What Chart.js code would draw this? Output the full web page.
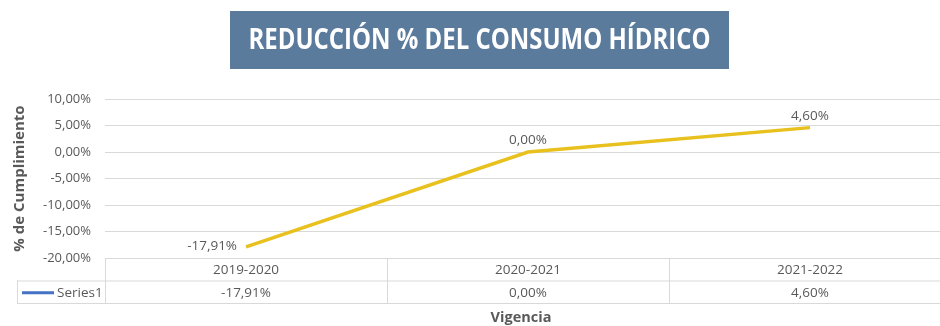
<!DOCTYPE html>
<html>
<head>
<meta charset="utf-8">
<script src="https://cdn.jsdelivr.net/npm/chart.js@4.4.0/dist/chart.umd.min.js"></script>
<style>
  html, body { margin: 0; padding: 0; background: #fff; overflow: hidden; }
  canvas { display: block; }
</style>
</head>
<body>
<canvas id="consumo" width="952" height="326"></canvas>
<script>
// datos del indicador
var vigencias = ["2019-2020", "2020-2021", "2021-2022"];
var reduccion = [-17.91, 0.00, 4.60];
var serieNombre = "Series1";
var tituloGrafico = "REDUCCIÓN % DEL CONSUMO HÍDRICO";
var tituloEjeY = "% de Cumplimiento";
var tituloEjeX = "Vigencia";

var gris = "#595959";
var lineaTabla = "#D9D9D9";
var fuente = "'Open Sans', sans-serif";

function pct(v) {
  return v.toFixed(2).replace(".", ",") + "%";
}

// titulo en caja azul, etiquetas de datos y tabla de datos bajo el eje
var extras = {
  id: "extras",
  afterDraw: function (chart) {
    var ctx = chart.ctx;
    var x = chart.scales.x;
    var area = chart.chartArea;

    // caja del titulo
    ctx.save();
    ctx.fillStyle = "#5B7B9D";
    ctx.fillRect(230, 11, 499, 58);
    ctx.font = "bold 28px " + fuente;
    ctx.fillStyle = "#fff";
    ctx.textBaseline = "middle";
    var w = ctx.measureText(tituloGrafico).width;
    var k = 462 / w;
    ctx.translate(479.5, 41);
    ctx.scale(k, 1);
    ctx.textAlign = "center";
    ctx.fillText(tituloGrafico, 0, 0);
    ctx.restore();

    // etiquetas de valor
    var meta = chart.getDatasetMeta(0);
    ctx.save();
    ctx.font = "13.5px " + fuente;
    ctx.fillStyle = gris;
    meta.data.forEach(function (p, i) {
      if (i === 0) {
        ctx.textAlign = "right";
        ctx.textBaseline = "middle";
        ctx.fillText(pct(reduccion[i]), p.x - 9, p.y - 1);
      } else {
        ctx.textAlign = "center";
        ctx.textBaseline = "bottom";
        ctx.fillText(pct(reduccion[i]), p.x, p.y - 5);
      }
    });
    ctx.restore();

    // tabla de datos
    var top = area.bottom;
    var fila = 22.5;
    var ancho = (x.getPixelForValue(1) - x.getPixelForValue(0));
    var izq = x.getPixelForValue(0) - ancho / 2;
    var der = area.right;
    ctx.save();
    ctx.strokeStyle = lineaTabla;
    ctx.lineWidth = 1;
    ctx.beginPath();
    // horizontales
    ctx.moveTo(izq, top + fila + 0.5); ctx.lineTo(der, top + fila + 0.5);
    ctx.moveTo(17, top + fila + 0.5); ctx.lineTo(izq, top + fila + 0.5);
    ctx.moveTo(17, top + 2 * fila + 0.5); ctx.lineTo(der, top + 2 * fila + 0.5);
    // verticales
    for (var i = 0; i <= vigencias.length; i++) {
      var vx = Math.round(izq + i * ancho) + 0.5;
      if (i === vigencias.length) vx = Math.round(der) - 0.5;
      ctx.moveTo(vx, top); ctx.lineTo(vx, top + 2 * fila);
    }
    ctx.moveTo(17.5, top + fila); ctx.lineTo(17.5, top + 2 * fila);
    ctx.stroke();

    ctx.font = "13.5px " + fuente;
    ctx.fillStyle = gris;
    ctx.textAlign = "center";
    ctx.textBaseline = "middle";
    vigencias.forEach(function (v, i) {
      var cx = x.getPixelForValue(i);
      ctx.fillText(v, cx, top + fila / 2 + 1);
      ctx.fillText(pct(reduccion[i]), cx, top + fila * 1.5 + 1);
    });

    // leyenda de la serie
    ctx.strokeStyle = "#4472C4";
    ctx.lineWidth = 3;
    ctx.beginPath();
    ctx.moveTo(22, top + fila * 1.5 + 1);
    ctx.lineTo(54, top + fila * 1.5 + 1);
    ctx.stroke();
    ctx.textAlign = "left";
    ctx.fillText(serieNombre, 57, top + fila * 1.5 + 1);

    // titulo eje x
    ctx.font = "bold 14.5px " + fuente;
    ctx.textAlign = "center";
    ctx.fillText(tituloEjeX, 521, 318);
    ctx.restore();
  }
};

var ctx = document.getElementById("consumo").getContext("2d");
var grafico = new Chart(ctx, {
  type: "line",
  data: {
    labels: vigencias,
    datasets: [{
      label: serieNombre,
      data: reduccion,
      borderColor: "#E8C11E",
      borderWidth: 3.5,
      pointRadius: 0,
      tension: 0,
      fill: false
    }]
  },
  options: {
    responsive: false,
    animation: false,
    layout: { padding: { top: 99, right: 1, bottom: 60, left: 11 } },
    plugins: {
      legend: { display: false },
      tooltip: { enabled: false }
    },
    scales: {
      x: {
        offset: true,
        ticks: { display: false },
        grid: { display: false },
        border: { display: false }
      },
      y: {
        min: -20,
        max: 10,
        ticks: {
          stepSize: 5,
          color: gris,
          font: { family: "'Open Sans'", size: 13 },
          padding: 14,
          callback: function (v) { return pct(v); }
        },
        grid: { color: lineaTabla, drawTicks: false },
        border: { display: false },
        title: {
          display: true,
          text: tituloEjeY,
          color: gris,
          font: { family: "'Open Sans'", size: 15, weight: "bold" },
          padding: { top: 0, bottom: 0 }
        }
      }
    }
  },
  plugins: [extras]
});
</script>
</body>
</html>
